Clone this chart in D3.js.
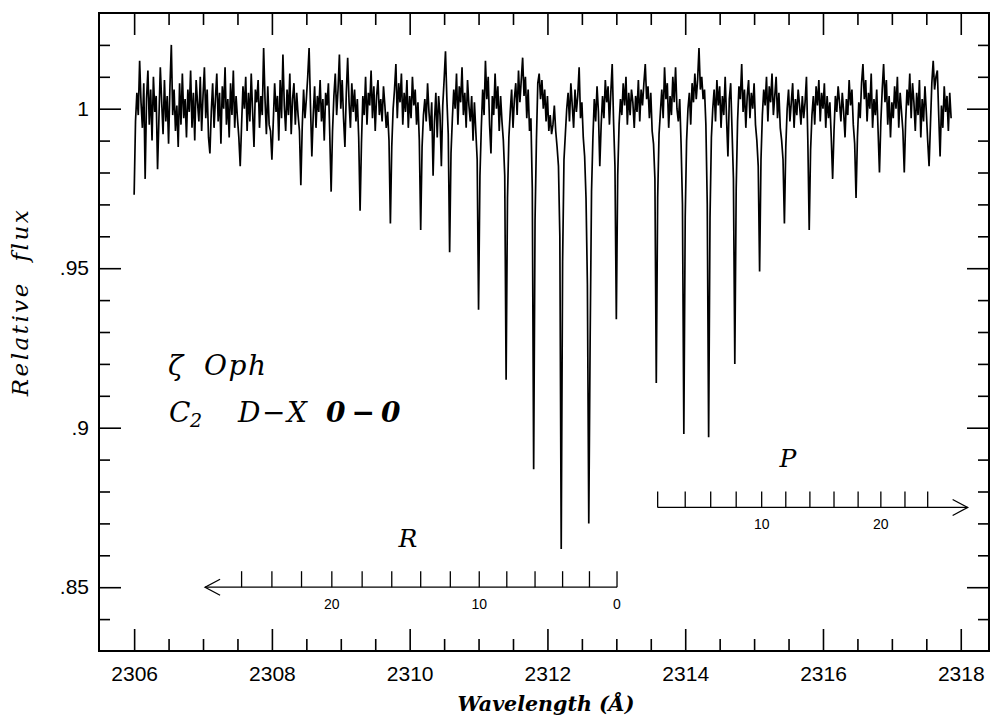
<!DOCTYPE html>
<html><head><meta charset="utf-8">
<script src="https://cdn.jsdelivr.net/npm/d3@7"></script>
<style>body{margin:0;background:#fff}</style>
</head><body>
<svg id="c" width="990" height="717"></svg>
<script>
// ---- data ----
const waveStart = 2306.00;   // first sample (Å)
const waveStep = 0.02;       // sample spacing (Å)
const flux = [
0.973,0.996,1.005,0.998,1.015,1.002,0.994,1.008,0.978,1.003,1.012,0.995,1.006,0.990,1.010,0.999,1.004,0.981,0.997,1.013,
1.002,0.992,1.009,0.996,1.004,0.989,1.007,1.020,0.998,1.006,0.993,1.001,0.988,1.008,0.995,1.011,0.997,1.003,0.991,1.006,
0.999,1.012,0.994,1.005,0.990,1.009,1.002,0.996,1.010,0.993,1.004,1.013,0.997,1.006,0.991,0.986,0.999,1.008,0.994,1.003,
1.011,0.996,1.005,0.989,1.007,1.000,1.013,0.995,1.003,0.991,1.008,0.998,1.012,0.994,1.004,0.997,0.991,0.982,0.995,1.007,
1.000,1.010,0.993,1.005,0.996,1.011,0.999,0.988,1.006,1.002,1.009,0.994,1.004,0.998,1.019,1.003,0.992,1.007,0.995,0.993,
0.984,0.996,1.008,0.999,1.004,0.990,1.009,0.997,1.017,1.001,0.993,1.006,0.998,1.011,0.992,1.003,1.008,0.995,1.005,0.998,
0.993,0.976,0.994,1.006,0.997,1.003,1.010,1.019,1.001,0.985,0.998,1.007,0.994,1.004,0.999,1.009,0.996,1.003,0.990,1.005,
1.001,1.008,0.992,0.974,0.993,1.004,1.011,0.998,1.006,1.017,1.000,1.009,0.997,0.988,1.005,1.016,1.002,0.994,1.008,0.999,
1.006,0.996,1.003,0.991,0.968,0.989,1.004,0.998,1.010,0.995,1.005,1.001,1.012,0.997,1.007,0.993,1.004,1.009,0.998,1.003,
0.996,1.007,1.001,0.994,0.999,0.990,0.964,0.988,1.000,1.006,1.014,0.997,1.008,1.002,1.011,0.995,1.005,0.999,1.009,0.994,
1.004,0.997,1.010,1.001,1.006,0.995,1.002,0.990,0.962,0.988,0.998,1.003,0.996,1.008,0.999,0.993,1.002,0.979,0.996,1.005,
0.991,1.004,0.998,0.982,1.001,1.009,1.018,1.003,0.992,0.955,0.986,0.997,1.006,1.000,1.011,0.995,1.007,1.002,1.013,0.998,
1.005,0.994,1.009,1.001,0.996,1.004,0.990,1.002,0.993,0.984,0.937,0.979,0.994,1.006,0.998,1.015,1.003,1.010,0.995,0.986,
1.004,0.998,1.011,1.000,1.007,0.993,1.004,0.996,0.990,0.979,0.915,0.972,0.991,0.999,1.006,0.994,1.003,1.008,0.998,1.012,
1.002,1.009,1.016,1.004,1.010,0.997,1.006,0.993,0.997,0.975,0.887,0.965,0.990,1.008,1.011,1.003,1.009,1.000,1.006,0.996,
1.004,0.993,0.998,0.992,0.995,1.001,0.993,0.988,0.982,0.960,0.862,0.952,0.984,0.992,1.000,1.005,0.996,1.008,1.001,0.994,
1.006,0.999,1.004,1.013,0.997,1.002,0.991,0.985,0.972,0.945,0.870,0.928,0.974,0.991,1.003,0.996,1.007,0.999,0.982,0.995,
1.004,0.997,1.009,1.002,1.007,0.995,1.005,1.014,0.996,0.982,0.934,0.979,0.995,1.003,0.998,1.008,1.001,1.010,0.995,1.005,
0.998,1.006,1.002,0.994,1.004,0.999,1.009,0.996,1.006,1.001,1.008,1.014,1.003,1.007,0.997,1.005,0.993,0.989,0.978,0.914,
0.972,0.992,0.999,1.006,0.997,1.013,1.003,1.008,0.994,1.004,0.998,1.010,1.002,1.013,1.000,0.996,1.003,0.989,0.970,0.898,
0.966,0.990,1.000,1.005,0.995,1.008,1.002,1.011,1.003,1.009,1.019,1.006,1.010,1.003,1.006,0.995,0.970,0.897,0.966,0.991,
1.000,1.006,0.996,1.009,1.001,1.007,0.994,1.004,0.998,1.010,0.997,0.985,1.003,1.008,0.993,0.978,0.920,0.975,0.996,1.007,
1.003,1.014,0.999,1.006,0.994,1.004,1.009,0.997,1.005,1.000,1.008,0.995,0.990,0.982,0.949,0.984,0.998,1.006,1.001,1.010,
0.996,1.007,1.002,1.011,0.998,1.004,1.010,0.997,1.005,0.994,0.990,0.984,0.964,0.988,1.000,1.006,0.996,1.002,1.008,0.994,
1.003,0.998,1.006,1.001,0.995,1.004,0.997,1.002,1.010,0.990,0.962,0.987,0.998,1.004,0.995,1.007,1.001,1.009,0.996,1.005,
1.000,1.008,0.994,1.004,0.997,1.002,0.991,0.978,0.993,1.004,0.999,1.007,1.002,0.996,1.005,0.999,0.991,1.003,0.998,1.009,
1.001,1.006,0.995,0.989,0.972,0.991,1.002,0.997,1.008,1.014,1.003,1.009,0.996,1.005,1.000,1.011,0.994,1.003,0.998,1.006,
0.993,0.980,0.996,1.006,1.014,1.002,1.009,0.995,1.004,0.991,1.002,0.997,1.007,1.000,1.010,0.994,1.005,0.999,0.993,0.980,
0.996,1.006,1.001,1.011,0.997,1.008,1.002,0.993,1.005,0.998,1.009,0.991,1.003,0.996,1.007,0.999,0.990,0.982,0.995,1.008,
1.015,1.006,1.010,1.012,0.998,0.985,1.001,0.994,1.007,0.999,1.004,0.993,1.005,0.997
];
const xMajorTicks = [2306, 2308, 2310, 2312, 2314, 2316, 2318];
const xTickLabels = ["2306", "2308", "2310", "2312", "2314", "2316", "2318"];
const yMajorTicks = [0.85, 0.90, 0.95, 1.00];
const yTickLabels = [".85", ".9", ".95", "1"];
const rBranchJ = [0, 2, 4, 6, 8, 10, 12, 14, 16, 18, 20, 22, 24, 26];
const rBranchWave = [2313.01, 2312.61, 2312.22, 2311.82, 2311.41, 2311.01, 2310.59, 2310.16, 2309.74, 2309.31, 2308.87, 2308.43, 2308.00, 2307.56];
const rLabeledJ = [0, 10, 20];
const rArrowWave = 2307.03;
const pBranchJ = [2, 4, 6, 8, 10, 12, 14, 16, 18, 20, 22, 24];
const pBranchWave = [2313.60, 2314.00, 2314.37, 2314.74, 2315.11, 2315.46, 2315.81, 2316.16, 2316.51, 2316.84, 2317.19, 2317.52];
const pLabeledJ = [10, 20];
const pArrowWave = 2318.10;
const rLadderFlux = 0.85, pLadderFlux = 0.875;

// ---- drawing ----
const svg = d3.select("#c");
const L = 99, R = 989, T = 13, B = 651;
const x = d3.scaleLinear().domain([2305.49, 2318.41]).range([L, R]);
const y = d3.scaleLinear().domain([0.83, 1.03]).range([B, T]);
const sans = "'Liberation Sans', Arial, Helvetica, sans-serif";
const serif = "'DejaVu Serif', 'Liberation Serif', serif";

const xMinor = d3.range(2306.5, 2318, 0.5).filter(v => Math.abs(v % 2) > 1e-6);
const yMinor = d3.range(84, 103).map(v => v / 100).filter(v => Math.round(v * 100) % 5 !== 0);

function styleAxis(g) {
  g.select(".domain").remove();
  g.selectAll(".tick line").attr("stroke", "#000").attr("stroke-width", 1.6);
  g.selectAll(".tick text").attr("fill", "#000")
    .style("font-family", sans).style("font-size", "21px");
}

svg.append("g").attr("transform", `translate(0,${B})`)
  .call(d3.axisBottom(x).tickValues(xMajorTicks).tickFormat((d, i) => xTickLabels[i]).tickSize(-22).tickPadding(15)).call(styleAxis);
svg.append("g").attr("transform", `translate(0,${B})`)
  .call(d3.axisBottom(x).tickValues(xMinor).tickFormat("").tickSize(-12)).call(styleAxis);
svg.append("g").attr("transform", `translate(0,${T})`)
  .call(d3.axisTop(x).tickValues(xMajorTicks).tickFormat("").tickSize(-22)).call(styleAxis);
svg.append("g").attr("transform", `translate(0,${T})`)
  .call(d3.axisTop(x).tickValues(xMinor).tickFormat("").tickSize(-12)).call(styleAxis);

svg.append("g").attr("transform", `translate(${L},0)`)
  .call(d3.axisLeft(y).tickValues(yMajorTicks).tickFormat((d, i) => yTickLabels[i]).tickSize(-22).tickPadding(10)).call(styleAxis);
svg.append("g").attr("transform", `translate(${L},0)`)
  .call(d3.axisLeft(y).tickValues(yMinor).tickFormat("").tickSize(-11)).call(styleAxis);
svg.append("g").attr("transform", `translate(${R},0)`)
  .call(d3.axisRight(y).tickValues(yMajorTicks).tickFormat("").tickSize(-22)).call(styleAxis);
svg.append("g").attr("transform", `translate(${R},0)`)
  .call(d3.axisRight(y).tickValues(yMinor).tickFormat("").tickSize(-11)).call(styleAxis);

svg.append("rect").attr("x", L).attr("y", T).attr("width", R - L).attr("height", B - T)
  .attr("fill", "none").attr("stroke", "#000").attr("stroke-width", 2);

// spectrum
const line = d3.line().x((d, i) => x(waveStart + i * waveStep)).y(d => y(d));
svg.append("path").datum(flux).attr("d", line)
  .attr("fill", "none").attr("stroke", "#000").attr("stroke-width", 1.7).attr("stroke-linejoin", "miter");

// ladders
function ladder(waves, Js, labeled, arrowWave, f, dir) {
  const g = svg.append("g").attr("stroke", "#000").attr("stroke-width", 1.3).attr("fill", "none");
  const y0 = y(f);
  g.append("line").attr("x1", x(waves[0])).attr("x2", x(arrowWave)).attr("y1", y0).attr("y2", y0);
  g.selectAll(".lt").data(waves).join("line")
    .attr("x1", d => x(d)).attr("x2", d => x(d)).attr("y1", y0).attr("y2", y0 - 16);
  const tx = x(arrowWave);
  g.append("path").attr("d", `M${tx - dir * 15},${y0 - 8}L${tx},${y0}L${tx - dir * 15},${y0 + 8}`);
  svg.append("g").selectAll("text").data(labeled).join("text")
    .attr("x", j => x(waves[Js.indexOf(j)])).attr("y", y0 + 22)
    .attr("text-anchor", "middle").style("font-family", sans).style("font-size", "14px").text(j => j);
}
ladder(rBranchWave, rBranchJ, rLabeledJ, rArrowWave, rLadderFlux, -1);
ladder(pBranchWave, pBranchJ, pLabeledJ, pArrowWave, pLadderFlux, 1);

svg.append("text").attr("x", 408).attr("y", 547).attr("text-anchor", "middle")
  .style("font-family", serif).style("font-style", "italic").style("font-size", "25px").text("R");
svg.append("text").attr("x", 788).attr("y", 467).attr("text-anchor", "middle")
  .style("font-family", serif).style("font-style", "italic").style("font-size", "25px").text("P");

// axis titles
svg.append("text").attr("x", 546).attr("y", 711).attr("text-anchor", "middle")
  .attr("textLength", 177).attr("lengthAdjust", "spacingAndGlyphs")
  .style("font-family", serif).style("font-style", "italic").style("font-weight", "bold").style("font-size", "21px")
  .text("Wavelength (Å)");
svg.append("text").attr("transform", "translate(28,302) rotate(-90)").attr("text-anchor", "middle")
  .style("font-family", serif).style("font-style", "italic").style("font-size", "23px")
  .style("letter-spacing", "2.5px").style("white-space", "pre")
  .text("Relative  flux");

// annotation
const ann = svg.append("g").style("font-family", serif).style("font-style", "italic").attr("fill", "#000");
const t1 = ann.append("text").attr("y", 375).style("font-size", "28px");
t1.append("tspan").attr("x", 168).text("ζ");
t1.append("tspan").attr("x", 204).style("letter-spacing", "1.5px").text("Oph");
const t2 = ann.append("text").attr("y", 422).style("font-size", "28px");
t2.append("tspan").attr("x", 169).text("C");
t2.append("tspan").attr("x", 190).attr("dy", 5).style("font-size", "19px").text("2");
t2.append("tspan").attr("x", 238).attr("dy", -5).style("letter-spacing", "1.5px").text("D\u2212X");
t2.append("tspan").attr("x", 326).style("font-weight", "bold").style("letter-spacing", "6px").text("0\u22120");
</script>
</body></html>
